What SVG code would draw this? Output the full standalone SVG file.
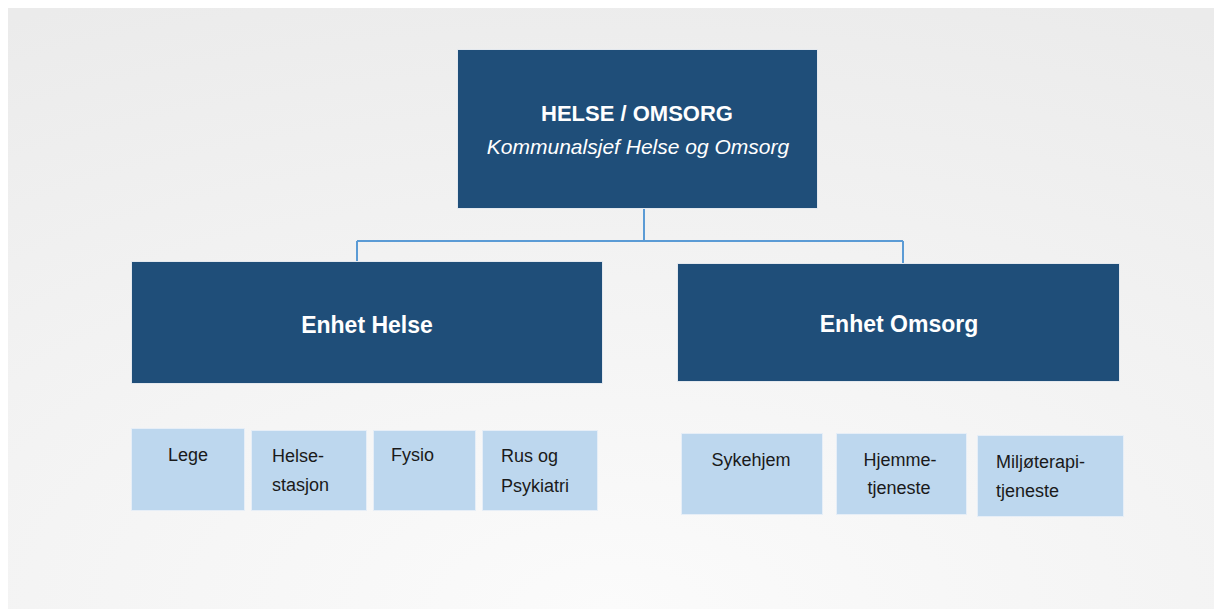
<svg xmlns="http://www.w3.org/2000/svg" width="1214" height="609" viewBox="0 0 1214 609">
  <defs>
    <radialGradient id="bg" cx="0.5" cy="1" r="1.1" fx="0.5" fy="1">
      <stop offset="0" stop-color="#fbfbfb"/>
      <stop offset="1" stop-color="#ebebeb"/>
    </radialGradient>
    <style>
      .dark { fill: #1f4e79; stroke: #e3e8ee; stroke-width: 1; }
      .light { fill: #bdd7ee; stroke: #e6eef7; stroke-width: 1; }
      .conn { stroke: #5b9bd5; stroke-width: 2; fill: none; }
      .t-top { font-family: "Liberation Sans", Arial, sans-serif; font-weight: bold; font-size: 22px; fill: #ffffff; text-anchor: middle; }
      .t-sub { font-family: "Liberation Sans", Arial, sans-serif; font-style: italic; font-size: 21px; fill: #ffffff; text-anchor: middle; }
      .t-mid { font-family: "Liberation Sans", Arial, sans-serif; font-weight: bold; font-size: 23px; fill: #ffffff; text-anchor: middle; }
      .t-small { font-family: "Liberation Sans", Arial, sans-serif; font-size: 18px; fill: #1a1a1a; }
    </style>
  </defs>
  <rect x="0" y="0" width="1214" height="609" fill="#ffffff"/>
  <rect x="8" y="8" width="1206" height="601" fill="url(#bg)"/>

  <g id="connectors">
    <path class="conn" d="M644 208 V241"/>
    <path class="conn" d="M357 241 H903"/>
    <path class="conn" d="M357 241 V261"/>
    <path class="conn" d="M903 241 V263"/>
  </g>

  <g id="node-helse-omsorg">
    <rect class="dark" x="457.5" y="49.5" width="360" height="159"/>
    <text class="t-top" x="637" y="121">HELSE / OMSORG</text>
    <text class="t-sub" x="638" y="154">Kommunalsjef Helse og Omsorg</text>
  </g>

  <g id="node-enhet-helse">
    <rect class="dark" x="131.5" y="261.5" width="471" height="122"/>
    <text class="t-mid" x="367" y="333">Enhet Helse</text>
  </g>

  <g id="node-enhet-omsorg">
    <rect class="dark" x="677.5" y="263.5" width="442" height="118"/>
    <text class="t-mid" x="899" y="332">Enhet Omsorg</text>
  </g>

  <g id="node-lege">
    <rect class="light" x="131.5" y="428.5" width="113" height="82"/>
    <text class="t-small" x="188" y="461" text-anchor="middle">Lege</text>
  </g>
  <g id="node-helsestasjon">
    <rect class="light" x="251.5" y="430.5" width="115" height="80"/>
    <text class="t-small" x="272" y="462">Helse-</text>
    <text class="t-small" x="272" y="491">stasjon</text>
  </g>
  <g id="node-fysio">
    <rect class="light" x="373.5" y="430.5" width="102" height="80"/>
    <text class="t-small" x="391" y="461">Fysio</text>
  </g>
  <g id="node-rus">
    <rect class="light" x="482.5" y="430.5" width="115" height="80"/>
    <text class="t-small" x="501" y="462">Rus og</text>
    <text class="t-small" x="501" y="492">Psykiatri</text>
  </g>

  <g id="node-sykehjem">
    <rect class="light" x="681.5" y="433.5" width="141" height="81"/>
    <text class="t-small" x="751" y="466" text-anchor="middle">Sykehjem</text>
  </g>
  <g id="node-hjemmetjeneste">
    <rect class="light" x="836.5" y="433.5" width="130" height="81"/>
    <text class="t-small" x="900" y="466" text-anchor="middle">Hjemme-</text>
    <text class="t-small" x="899" y="494" text-anchor="middle">tjeneste</text>
  </g>
  <g id="node-miljoterapi">
    <rect class="light" x="977.5" y="435.5" width="146" height="81"/>
    <text class="t-small" x="996" y="468">Miljøterapi-</text>
    <text class="t-small" x="996" y="497">tjeneste</text>
  </g>
</svg>
